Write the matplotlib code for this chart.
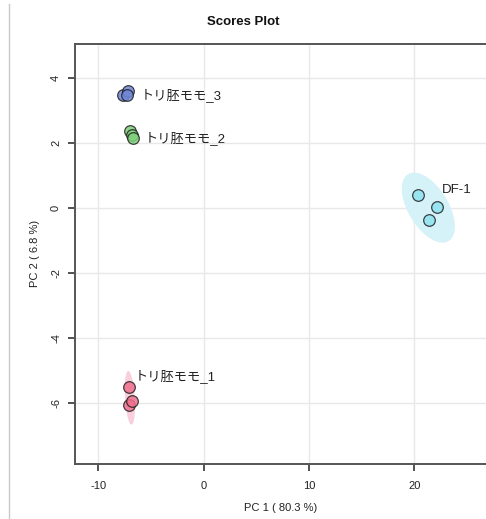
import numpy as np
import matplotlib.pyplot as plt
from matplotlib.patches import Ellipse
from matplotlib.lines import Line2D

plt.rcParams['font.family'] = ['Liberation Sans', 'Noto Sans CJK JP', 'DejaVu Sans']
plt.rcParams['axes.unicode_minus'] = False

# PCA scores per group
groups = ['トリ胚モモ_1', 'トリ胚モモ_2', 'トリ胚モモ_3', 'DF-1']
pc1 = [
    [-7.1, -7.1, -6.8],
    [-7.0, -6.83, -6.74],
    [-7.7, -7.2, -7.3],
    [20.4, 22.2, 21.4],
]
pc2 = [
    [-5.5, -6.06, -5.94],
    [2.37, 2.25, 2.15],
    [3.48, 3.6, 3.48],
    [0.4, 0.03, -0.37],
]
point_colors = ['#f0708e', '#7fd07c', '#7188d8', '#8ee2f0']
ellipse_colors = ['#f9cfdc', '#d3f0d0', '#d2daf4', '#d6f2f9']
label_offsets = [(4, 8), (11, -5), (9, -3), (17, 4)]
ellipse_scale = 2.8

fig = plt.figure(figsize=(4.86, 5.19), dpi=100)
ax = fig.add_axes([75 / 486, (519 - 464) / 519, 411 / 486, (464 - 43.7) / 519])

for x, y, pc, ec in zip(pc1, pc2, point_colors, ellipse_colors):
    x = np.array(x)
    y = np.array(y)
    cov = np.cov(x, y)
    vals, vecs = np.linalg.eigh(cov)
    angle = np.degrees(np.arctan2(vecs[1, 1], vecs[0, 1]))
    w = 2 * ellipse_scale * np.sqrt(vals[1])
    h = 2 * ellipse_scale * np.sqrt(vals[0])
    ax.add_patch(Ellipse((x.mean(), y.mean()), w, h, angle=angle,
                         facecolor=ec, edgecolor='none', zorder=2))

for x, y, pc in zip(pc1, pc2, point_colors):
    ax.scatter(x, y, s=70, facecolor=pc, edgecolor='#222222',
               linewidth=0.9, alpha=0.85, zorder=3)

for name, x, y, off in zip(groups, pc1, pc2, label_offsets):
    i = int(np.argmax(y))
    ax.annotate(name, (x[i], y[i]), xytext=off, textcoords='offset points',
                fontsize=9.5, color='#222222', va='center', ha='left', zorder=4)

ax.set_xlim(-12.21, 26.81)
ax.set_ylim(-7.87, 5.065)
ax.set_xticks([-10, 0, 10, 20])
ax.set_yticks([4, 2, 0, -2, -4, -6])
ax.grid(True, color='#e8e8e8', linewidth=1)
ax.set_axisbelow(True)
for s in ['left', 'top', 'bottom']:
    ax.spines[s].set_color('#555555')
    ax.spines[s].set_linewidth(1.4)
ax.spines['right'].set_visible(False)
ax.tick_params(direction='out', length=5, width=1.2, color='#333333',
               labelsize=8, labelcolor='#222222', pad=7)
ax.tick_params(axis='y', pad=5)
for lbl in ax.get_yticklabels():
    lbl.set_rotation(90)
    lbl.set_va('center')

ax.set_xlabel('PC 1 ( 80.3 %)', fontsize=8, color='#222222', labelpad=9)
ax.set_ylabel('PC 2 ( 6.8 %)', fontsize=8, color='#222222', labelpad=8)
fig.text(0.5, 1 - 22 / 519, 'Scores Plot', ha='center', va='center',
         fontsize=9.5, fontweight='bold', color='#111111')

# thin frame line along the left edge
fig.add_artist(Line2D([9 / 486, 9 / 486], [0, 1 - 4 / 519],
                      color='#c8c8c8', linewidth=1))

fig.savefig('out.png', dpi=100)
